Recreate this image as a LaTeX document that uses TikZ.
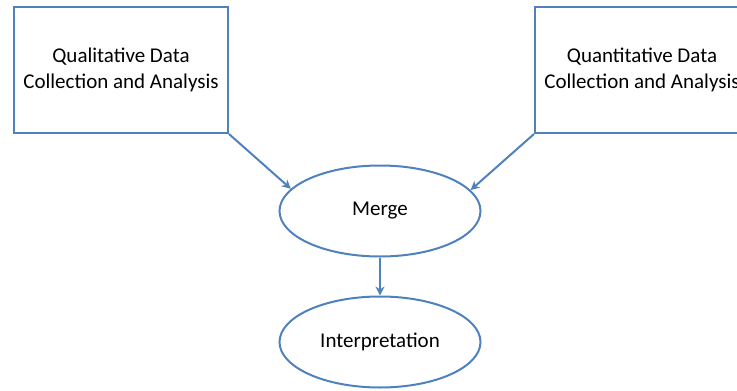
\documentclass[tikz,border=0pt]{standalone}
\usepackage{fontspec}
\setmainfont{Carlito}
\usepackage{tikz}
\usetikzlibrary{shapes.geometric,arrows.meta}
\definecolor{flowblue}{RGB}{79,129,189}

\begin{document}
\begin{tikzpicture}[x=1pt,y=-1pt,
    databox/.style={rectangle, draw=flowblue, line width=2pt,
        minimum width=214pt, minimum height=126pt, align=center,
        font=\fontsize{21}{26}\selectfont},
    stage/.style={ellipse, draw=flowblue, line width=2pt,
        minimum width=201pt, minimum height=91pt, inner sep=0pt,
        font=\fontsize{21}{26}\selectfont},
    flow/.style={draw=flowblue, line width=2pt,
        -{Stealth[length=9pt,width=9pt]}}]
    \useasboundingbox (0,0) rectangle (737,391);

    % data strands
    \node[databox] (qual) at (121,70) {Qualitative Data\\Collection and Analysis};
    \node[databox] (quan) at (642,70) {Quantitative Data\\Collection and Analysis};

    % merging and interpretation
    \node[stage] (merge) at (380,211) {Merge};
    \node[stage] (interp) at (380,342) {Interpretation};

    \draw[flow] (qual.south east) -- (merge.166);
    \draw[flow] (quan.south west) -- (merge.13);
    \draw[flow] (merge) -- (interp);
\end{tikzpicture}
\end{document}
